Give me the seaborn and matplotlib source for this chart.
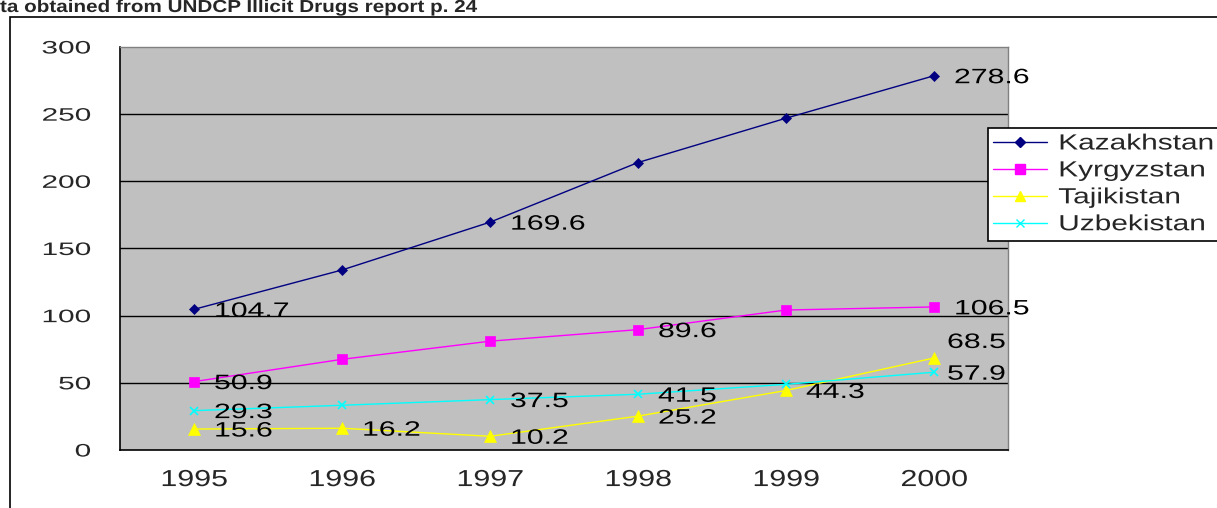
import matplotlib
matplotlib.use("Agg")
import matplotlib.pyplot as plt
import seaborn as sns
import pandas as pd
from matplotlib.patches import Rectangle
from matplotlib.lines import Line2D
from matplotlib.patheffects import AbstractPathEffect
from matplotlib.transforms import Affine2D

years = ["1995", "1996", "1997", "1998", "1999", "2000"]
kazakhstan = [104.7, 134.0, 169.6, 214.0, 247.0, 278.6]
kyrgyzstan = [50.9, 67.5, 81.0, 89.6, 104.2, 106.5]
tajikistan = [15.6, 16.2, 10.2, 25.2, 44.3, 68.5]
uzbekistan = [29.3, 33.3, 37.5, 41.5, 48.9, 57.9]
series_names = ["Kazakhstan", "Kyrgyzstan", "Tajikistan", "Uzbekistan"]
y_ticks = [0, 50, 100, 150, 200, 250, 300]
title = "ta obtained from UNDCP Illicit Drugs report p. 24"

# which points carry a value label (index into years)
labelled = {
    "Kazakhstan": [0, 2, 5],
    "Kyrgyzstan": [0, 3, 5],
    "Tajikistan": [0, 1, 2, 3, 4, 5],
    "Uzbekistan": [0, 2, 3, 5],
}


class Stretch(AbstractPathEffect):
    """Draw text glyphs stretched horizontally (the reference font is wide)."""

    def __init__(self, sx, anchor="left"):
        super().__init__()
        self.sx = sx
        self.anchor = anchor

    def draw_path(self, renderer, gc, tpath, affine, rgbFace=None):
        v = tpath.vertices
        if len(v) and self.anchor != "left":
            xmin, xmax = v[:, 0].min(), v[:, 0].max()
            c = xmax if self.anchor == "right" else (xmin + xmax) / 2
        else:
            c = 0.0
        t = Affine2D().translate(-c, 0).scale(self.sx, 1).translate(c, 0) + affine
        renderer.draw_path(gc, tpath, t, rgbFace)


sns.set_style("white")
plt.rcParams["font.family"] = ["Liberation Sans", "DejaVu Sans"]

values = [kazakhstan, kyrgyzstan, tajikistan, uzbekistan]
rows = []
for name, vals in zip(series_names, values):
    for i, (yr, v) in enumerate(zip(years, vals)):
        rows.append({"Year": i, "YearLabel": yr, "Country": name, "Value": v})
df = pd.DataFrame(rows)

colors = {"Kazakhstan": "#000080", "Kyrgyzstan": "#FF00FF",
          "Tajikistan": "#FFFF00", "Uzbekistan": "#00FFFF"}
markers = {"Kazakhstan": "D", "Kyrgyzstan": "s", "Tajikistan": "^", "Uzbekistan": "x"}
msizes = {"Kazakhstan": 5.5, "Kyrgyzstan": 7, "Tajikistan": 8, "Uzbekistan": 6}

fig = plt.figure(figsize=(12.17, 5.08), dpi=100)
# outer chart frame
fig.patches.append(Rectangle((10 / 1217, -0.05), 1.2, 1 - 17 / 508 + 0.05,
                             transform=fig.transFigure, fill=False,
                             edgecolor="black", linewidth=1.2, zorder=0))
fig.text(0.0, 1.0, title, ha="left", va="top", fontsize=12.5,
         fontweight="bold", path_effects=[Stretch(1.19, "left")])

ax = fig.add_axes([120 / 1217, 1 - 450 / 508, (1008 - 120) / 1217, (450 - 47) / 508])
ax.set_facecolor("#C0C0C0")

for name in series_names:
    sub = df[df["Country"] == name]
    sns.lineplot(data=sub, x="Year", y="Value", ax=ax, color=colors[name],
                 linewidth=1.0, marker=markers[name], markersize=msizes[name],
                 markeredgecolor=colors[name],
                 markeredgewidth=1.2 if name == "Uzbekistan" else 0.5,
                 label=name, legend=False, zorder=3)

label_fs = 15
for name, vals in zip(series_names, values):
    for i in labelled[name]:
        v = vals[i]
        dx, dy = 14.4, 0.0
        if i == 5 and name in ("Tajikistan", "Uzbekistan"):
            dx = 9.4
        if name == "Tajikistan" and i == 5:
            dy = 12.6
        ax.annotate(f"{v}", (i, v), xytext=(dx, dy - 0.358 * label_fs),
                    textcoords="offset points", ha="left", va="baseline",
                    fontsize=label_fs, color="black", zorder=4,
                    annotation_clip=False,
                    path_effects=[Stretch(1.45, "left")])

ax.set_xlim(-0.5, 5.5)
ax.set_ylim(0, 300)
ax.set_yticks(y_ticks)
ax.set_yticklabels([str(t) for t in y_ticks], fontsize=13)
ax.set_xticks(range(len(years)))
ax.set_xticklabels(years, fontsize=16.7)
ax.set_xticks([i - 0.5 for i in range(len(years) + 1)], minor=True)
ax.tick_params(axis="x", which="major", length=0, pad=13)
ax.tick_params(axis="x", which="minor", length=6, width=1, color="black", direction="out")
ax.tick_params(axis="y", which="major", length=7, width=1, color="black", direction="out", pad=14)
for lbl in ax.get_yticklabels():
    lbl.set_path_effects([Stretch(1.65, "right")])
for lbl in ax.get_xticklabels():
    lbl.set_path_effects([Stretch(1.31, "center")])
ax.set_xlabel("")
ax.set_ylabel("")
for t in y_ticks[1:-1]:
    ax.axhline(t, color="black", linewidth=1.0, zorder=1)
for side in ["top", "right"]:
    ax.spines[side].set_color("#808080")
    ax.spines[side].set_linewidth(1.0)
for side in ["left", "bottom"]:
    ax.spines[side].set_color("black")
    ax.spines[side].set_linewidth(1.2)

handles = [Line2D([0], [0], color=colors[n], marker=markers[n], markersize=msizes[n] - 0.5,
                  markeredgecolor=colors[n], linewidth=1.0) for n in series_names]
leg = fig.legend(handles, series_names, loc="upper left", mode="expand",
                 bbox_to_anchor=(988 / 1217, 0.0, 0.25, 1 - 128 / 508), fontsize=15.8,
                 frameon=True, fancybox=False, edgecolor="black", framealpha=1,
                 handlelength=2.45, borderpad=0.25, labelspacing=0.27, handletextpad=0.5,
                 borderaxespad=0)
leg.get_frame().set_linewidth(1.2)
for txt in leg.get_texts():
    txt.set_path_effects([Stretch(1.36, "left")])

fig.savefig("out.png", dpi=100)
